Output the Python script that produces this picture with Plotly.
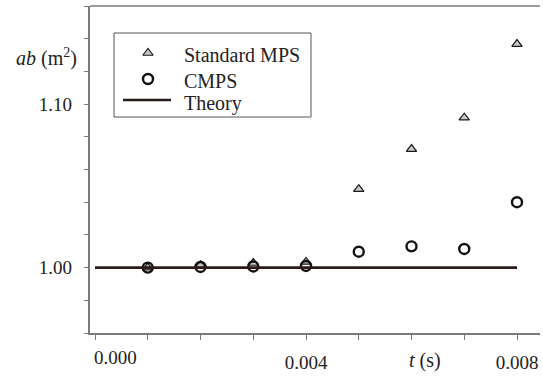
import plotly.graph_objects as go

t = [0.001, 0.002, 0.003, 0.004, 0.005, 0.006, 0.007, 0.008]
standard_mps = [1.000, 1.0015, 1.0028, 1.0035, 1.048, 1.0725, 1.0917, 1.1367]
cmps = [1.000, 1.0004, 1.0007, 1.001, 1.0097, 1.013, 1.0114, 1.040]
theory_t = [0.0, 0.008]
theory_val = [1.0, 1.0]

x_ticks = [0.000, 0.001, 0.002, 0.003, 0.004, 0.005, 0.006, 0.007, 0.008]
x_ticktext = ["", "", "", "", "0.004", "", "", "", "0.008"]
y_ticks = [0.96, 0.98, 1.00, 1.02, 1.04, 1.06, 1.08, 1.10, 1.12, 1.14, 1.16]
y_ticktext = ["", "", "1.00", "", "", "", "", "1.10", "", "", ""]
legend_names = ["Standard MPS", "CMPS", "Theory"]

FONT = "Liberation Serif, Times New Roman, serif"
FS = 19
TXT = "#222222"
AX = "#7a7a7a"

W, H = 543, 379
L, R, T, B = 90, 3, 6, 46
PW, PH = W - L - R, H - T - B

PAD = "\u00a0\u2009"  # pushes y tick labels a little further left


def px_to_paper(px, py):
    return (px - L) / PW, (H - B - py) / PH


tri_marker = dict(symbol="triangle-up", size=9, color="#c8c8c8",
                  line=dict(color="#1a1a1a", width=1.2))
circ_marker = dict(symbol="circle-open", size=10, color="#111111",
                   line=dict(color="#111111", width=2.4))
theory_line = dict(color="#2a1a1a", width=2.6)

fig = go.Figure()
fig.add_trace(go.Scatter(x=t, y=standard_mps, mode="markers", name=legend_names[0],
                         marker=tri_marker, showlegend=False))
fig.add_trace(go.Scatter(x=t, y=cmps, mode="markers", name=legend_names[1],
                         marker=circ_marker, showlegend=False))
fig.add_trace(go.Scatter(x=theory_t, y=theory_val, mode="lines", name=legend_names[2],
                         line=theory_line, showlegend=False))

# --- legend box drawn on a pixel-scaled overlay axis ---
box = dict(x0=114, x1=311, y0=33, y1=117)
sym_y = [53, 79, 100]
text_y = [55, 81, 103]
sym_x = 148
line_x = [123, 171]
text_x = 182

fig.add_trace(go.Scatter(x=[sym_x], y=[sym_y[0]], mode="markers", marker=tri_marker,
                         xaxis="x2", yaxis="y2", showlegend=False, hoverinfo="skip"))
fig.add_trace(go.Scatter(x=[sym_x], y=[sym_y[1]], mode="markers", marker=circ_marker,
                         xaxis="x2", yaxis="y2", showlegend=False, hoverinfo="skip"))
fig.add_trace(go.Scatter(x=line_x, y=[sym_y[2]] * 2, mode="lines", line=theory_line,
                         xaxis="x2", yaxis="y2", showlegend=False, hoverinfo="skip"))

tx, ty = px_to_paper(425, 360)
yx, yy = px_to_paper(46, 58)

annotations = [
    dict(text="0.000", x=0.0, y=0, xref="x", yref="paper", xshift=20, yshift=-24,
         showarrow=False, yanchor="middle", font=dict(family=FONT, size=FS, color=TXT)),
    dict(text="<i>t</i> (s)", x=tx, y=ty, xref="paper", yref="paper",
         showarrow=False, xanchor="center", yanchor="middle",
         font=dict(family=FONT, size=20, color=TXT)),
    dict(text="<i>ab</i> (m<sup>2</sup>)", x=yx, y=yy, xref="paper", yref="paper",
         showarrow=False, xanchor="center", yanchor="middle",
         font=dict(family=FONT, size=20, color=TXT)),
]
for name, ry in zip(legend_names, text_y):
    annotations.append(dict(text=name, x=text_x, y=ry, xref="x2", yref="y2",
                            showarrow=False, xanchor="left", yanchor="middle",
                            font=dict(family=FONT, size=20, color=TXT)))

fig.update_layout(
    width=W, height=H,
    margin=dict(l=L, r=R, t=T, b=B),
    paper_bgcolor="white", plot_bgcolor="white",
    font=dict(family=FONT, size=FS, color=TXT),
    showlegend=False,
    xaxis=dict(
        range=[-0.000095, 0.008436], automargin=False,
        tickmode="array", tickvals=x_ticks, ticktext=x_ticktext,
        ticks="outside", ticklen=5, tickcolor=AX, tickwidth=1,
        showline=True, linecolor=AX, linewidth=1.5,
        showgrid=False, zeroline=False, ticklabelstandoff=6,
        tickfont=dict(family=FONT, size=FS, color=TXT),
    ),
    yaxis=dict(
        range=[0.96, 1.16], automargin=False,
        tickmode="array", tickvals=y_ticks,
        ticktext=[s + PAD if s else s for s in y_ticktext],
        ticks="outside", ticklen=4, tickcolor=AX, tickwidth=1,
        showline=True, linecolor=AX, linewidth=1.5,
        showgrid=False, zeroline=False,
        tickfont=dict(family=FONT, size=FS, color=TXT),
    ),
    xaxis2=dict(range=[L, W - R], overlaying="x", visible=False, automargin=False,
                fixedrange=True),
    yaxis2=dict(range=[H - B, T], overlaying="y", visible=False, automargin=False,
                fixedrange=True),
    shapes=[
        dict(type="line", xref="paper", yref="paper", x0=0, x1=1, y0=1, y1=1,
             line=dict(color=AX, width=1.5)),
        dict(type="rect", xref="x2", yref="y2", x0=box["x0"], x1=box["x1"],
             y0=box["y0"], y1=box["y1"], line=dict(color="#555555", width=1),
             fillcolor="rgba(0,0,0,0)", layer="below"),
    ],
    annotations=annotations,
)

fig.write_html(
    "out.html",
    config={"displayModeBar": False},
    post_script="document.body.style.margin='0';document.body.style.padding='0';",
)
